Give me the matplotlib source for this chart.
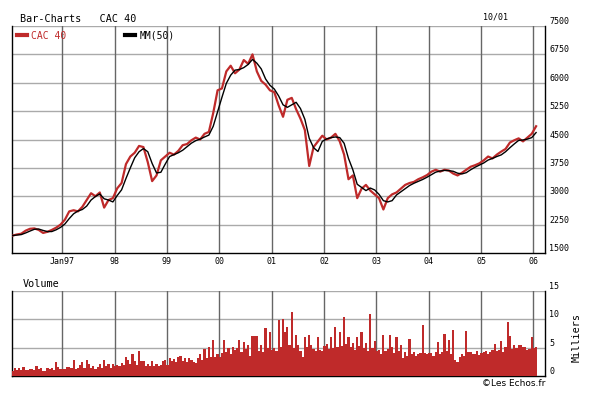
import numpy as np
import pandas as pd
import matplotlib
matplotlib.use("Agg")
import matplotlib.pyplot as plt

plt.rcParams['font.family'] = ['DejaVu Sans Mono']

# CAC 40 monthly levels (Jan 1996 .. Jan 2006)
price_1996 = [1960, 1990, 2010, 2090, 2140, 2150, 2110, 2030, 2060, 2110, 2170, 2250]
price_1997 = [2380, 2600, 2630, 2600, 2720, 2900, 3080, 3000, 3100, 2700, 2900, 2950]
price_1998 = [3210, 3350, 3850, 4050, 4150, 4330, 4300, 3900, 3400, 3550, 3950, 4050]
price_1999 = [4150, 4100, 4200, 4350, 4380, 4480, 4550, 4500, 4650, 4700, 5200, 5800]
price_2000 = [5850, 6300, 6450, 6250, 6350, 6600, 6500, 6750, 6300, 6050, 5950, 5800]
price_2001 = [5750, 5400, 5100, 5550, 5600, 5300, 5050, 4750, 3800, 4300, 4450, 4600]
price_2002 = [4500, 4550, 4650, 4450, 4100, 3450, 3550, 2950, 3200, 3300, 3150, 3050]
price_2003 = [2950, 2650, 2950, 3050, 3100, 3200, 3300, 3350, 3380, 3450, 3500, 3560]
price_2004 = [3650, 3700, 3650, 3700, 3680, 3600, 3550, 3620, 3700, 3780, 3820, 3870]
price_2005 = [3950, 4050, 4000, 4100, 4180, 4250, 4420, 4480, 4530, 4450, 4550, 4650]
price_2006 = [4850]

# volume (milliers), two readings per month
vol_1996 = [0.8, 1.4, 1.0, 1.4, 1.0, 1.6, 1.1, 1.0, 1.2, 1.2, 1.0, 1.8, 1.3, 1.5, 0.8, 0.8, 1.5, 1.2, 1.4, 1.0, 2.5, 1.6, 1.2, 1.3]
vol_1997 = [1.3, 1.6, 1.6, 1.4, 2.9, 1.3, 1.5, 2.0, 2.4, 1.5, 2.9, 2.1, 1.4, 1.7, 1.3, 1.6, 2.2, 1.5, 2.8, 1.8, 2.1, 1.5, 2.2, 1.7]
vol_1998 = [1.9, 1.8, 2.3, 1.9, 3.3, 2.8, 2.2, 3.8, 2.7, 1.9, 4.4, 2.6, 2.7, 1.8, 2.2, 1.7, 2.6, 1.8, 2.1, 1.8, 2.0, 2.7, 2.9, 1.9]
vol_1999 = [3.2, 2.6, 3.0, 2.4, 3.3, 3.5, 2.6, 3.2, 2.4, 3.2, 2.9, 2.5, 2.3, 3.1, 3.8, 2.9, 4.7, 3.2, 5.1, 3.4, 6.4, 3.3, 3.8, 3.4]
vol_2000 = [4.0, 6.3, 4.2, 5.0, 3.8, 5.2, 4.6, 5.0, 6.3, 4.3, 6.0, 4.8, 5.5, 3.6, 7.1, 7.0, 7.0, 4.5, 5.5, 4.2, 8.4, 5.0, 7.8, 4.6]
vol_2001 = [5.0, 4.5, 9.8, 5.2, 10.0, 7.8, 8.6, 5.5, 11.3, 5.0, 7.2, 5.5, 4.5, 3.3, 6.8, 5.2, 7.3, 5.5, 4.8, 4.4, 6.8, 4.6, 4.5, 5.3]
vol_2002 = [5.6, 4.7, 6.8, 5.0, 8.7, 5.1, 7.7, 5.3, 10.4, 5.6, 6.8, 5.2, 5.9, 4.6, 6.8, 5.3, 7.8, 4.9, 5.9, 4.5, 11.0, 5.0, 6.1, 4.4]
vol_2003 = [4.6, 3.9, 7.3, 4.4, 4.8, 7.3, 5.1, 4.0, 6.9, 4.5, 5.5, 3.2, 4.2, 3.5, 6.5, 3.8, 4.2, 3.6, 3.8, 4.0, 9.0, 4.0, 3.9, 4.1]
vol_2004 = [4.0, 3.6, 4.2, 6.0, 3.9, 4.2, 7.5, 4.4, 6.4, 3.9, 8.1, 2.9, 2.5, 3.4, 3.9, 3.6, 8.0, 4.3, 4.2, 3.8, 3.9, 4.5, 3.7, 4.1]
vol_2005 = [4.2, 4.5, 3.9, 4.3, 4.6, 5.7, 4.4, 4.6, 6.2, 4.3, 5.2, 9.5, 7.1, 4.7, 5.4, 5.0, 5.4, 5.5, 5.1, 5.1, 4.6, 4.8, 6.9, 5.0]
vol_2006 = [5.2]

year_ticks = [1997, 1998, 1999, 2000, 2001, 2002, 2003, 2004, 2005, 2006]
year_labels = ["Jan97", "98", "99", "00", "01", "02", "03", "04", "05", "06"]
price_ticks = [1500, 2250, 3000, 3750, 4500, 5250, 6000, 6750, 7500]
vol_ticks = [0, 5, 10, 15]

RED = "#bf2a2a"

price = np.array(price_1996 + price_1997 + price_1998 + price_1999 + price_2000 +
                 price_2001 + price_2002 + price_2003 + price_2004 + price_2005 + price_2006, float)
volume = np.array(vol_1996 + vol_1997 + vol_1998 + vol_1999 + vol_2000 +
                  vol_2001 + vol_2002 + vol_2003 + vol_2004 + vol_2005 + vol_2006, float)

t_price = 1996.05 + np.arange(len(price)) / 12.0
t_vol = 1996.05 + np.arange(len(volume)) / 24.0
# moving average (~50 trading days on monthly points)
mm50 = pd.Series(price).rolling(3, min_periods=1).mean().values

fig = plt.figure(figsize=(6.05, 3.99), dpi=100)
W, H = 605.0, 399.0
ax = fig.add_axes([12 / W, 1 - 253 / H, 533 / W, 227 / H])
axv = fig.add_axes([12 / W, 1 - 376 / H, 533 / W, 85 / H])

xlim = (1996.04, 2006.22)


def style(a, yticks, ylabels):
    a.set_xlim(*xlim)
    a.set_ylim(yticks[0], yticks[-1])
    a.set_axisbelow(True)
    for y in yticks[1:]:
        a.axhline(y, color="#aaaaaa", lw=1, zorder=0)
    for x in year_ticks:
        a.axvline(x, color="#666666", lw=1, zorder=0)
    a.spines["top"].set_visible(False)
    for s in ("left", "right", "bottom"):
        a.spines[s].set_color("black")
        a.spines[s].set_linewidth(1)
    a.yaxis.tick_right()
    a.set_yticks(yticks)
    a.set_yticklabels(ylabels, va="bottom", fontsize=6)
    a.tick_params(axis="y", length=0, pad=3)
    a.tick_params(axis="x", length=0, pad=3, labelsize=6)


style(ax, price_ticks, [str(v) for v in price_ticks])
ax.set_xticks(year_ticks)
ax.set_xticklabels(year_labels)

ax.plot(t_price, price, color=RED, lw=1.6, label="CAC 40", zorder=3)
ax.plot(t_price, mm50, color="black", lw=1.0, label="MM(50)", zorder=4)
leg = ax.legend(loc="upper left", ncol=2, frameon=False, fontsize=7,
                handlelength=1.0, handletextpad=0.5, columnspacing=6.0,
                borderpad=0, borderaxespad=0.5, labelcolor="linecolor")
for h in leg.legend_handles:
    h.set_linewidth(3)

style(axv, vol_ticks, [str(v) for v in vol_ticks])
axv.set_xticks(year_ticks)
axv.set_xticklabels([])
axv.bar(t_vol, volume, width=1 / 24.0, color=RED, align="center", lw=0, zorder=3)

fig.text(20 / W, 1 - 19 / H, "Bar-Charts   CAC 40", fontsize=7.3, va="center")
fig.text(495 / W, 1 - 17 / H, "10/01", fontsize=6, va="center", ha="center")
fig.text(23 / W, 1 - 284 / H, "Volume", fontsize=7.3, va="center")
fig.text(577 / W, 1 - 337 / H, "Milliers", fontsize=7.3, rotation=90, va="center", ha="center")
fig.text(545 / W, 1 - 383 / H, "\u00a9Les Echos.fr", fontsize=6.5, va="center", ha="right",
         family="DejaVu Sans")

fig.savefig("out.png", dpi=100)
